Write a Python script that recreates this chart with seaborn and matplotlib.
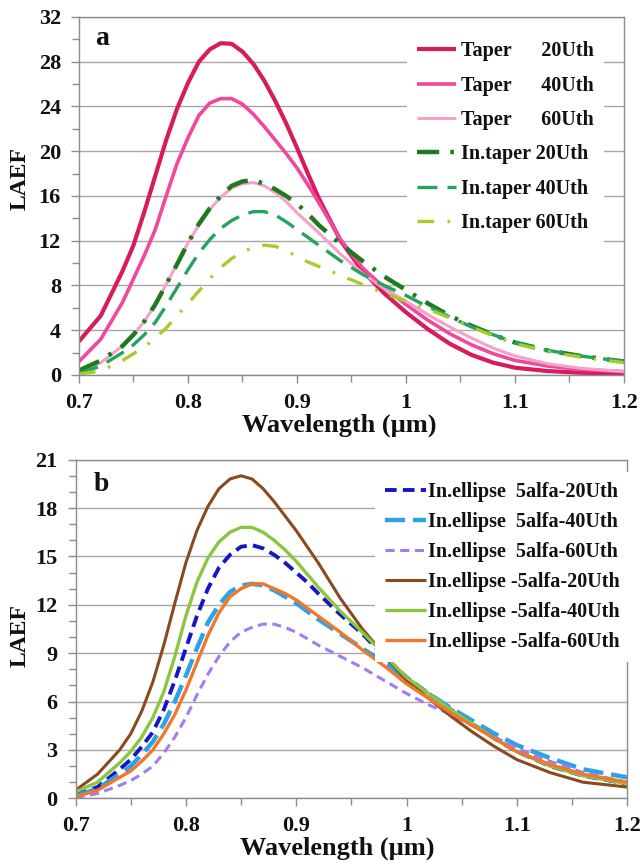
import numpy as np
import pandas as pd
import matplotlib
matplotlib.use("Agg")
import matplotlib.pyplot as plt
from matplotlib.ticker import MultipleLocator
import seaborn as sns

# ---------------- data ----------------
wavelength = [0.70, 0.72, 0.74, 0.75, 0.76, 0.77, 0.78, 0.79, 0.80, 0.81,
              0.82, 0.83, 0.84, 0.85, 0.86, 0.87, 0.88, 0.89, 0.90, 0.91,
              0.92, 0.94, 0.96, 0.98, 1.00, 1.02, 1.04, 1.06, 1.08, 1.10,
              1.13, 1.16, 1.20]

# panel a
taper_20 = [3.0, 5.3, 9.3, 11.6, 14.6, 17.8, 21.0, 23.8, 26.1, 28.0,
            29.1, 29.65, 29.6, 28.9, 27.8, 26.3, 24.5, 22.5, 20.3, 18.0,
            15.8, 12.0, 9.3, 7.3, 5.6, 4.1, 2.8, 1.8, 1.1, 0.65,
            0.35, 0.2, 0.1]
taper_40 = [1.2, 3.2, 6.5, 8.6, 10.7, 13.0, 16.0, 18.9, 21.2, 23.2,
            24.3, 24.7, 24.7, 24.2, 23.3, 22.2, 21.0, 19.8, 18.5, 17.0,
            15.4, 12.1, 9.6, 7.8, 6.3, 4.9, 3.7, 2.7, 1.9, 1.3,
            0.8, 0.5, 0.3]
taper_60 = [0.3, 1.1, 2.6, 3.6, 4.8, 6.3, 8.1, 9.9, 11.8, 13.4,
            14.8, 15.9, 16.7, 17.1, 17.2, 16.9, 16.3, 15.5, 14.5, 13.6,
            12.7, 10.8, 9.1, 7.7, 6.6, 5.4, 4.3, 3.3, 2.4, 1.7,
            1.0, 0.6, 0.3]
intaper_20 = [0.4, 1.3, 2.6, 3.6, 4.8, 6.3, 8.1, 9.9, 11.8, 13.5,
              14.9, 16.0, 16.9, 17.3, 17.4, 17.1, 16.6, 16.0, 15.3, 14.4,
              13.4, 11.7, 10.2, 8.8, 7.6, 6.4, 5.3, 4.4, 3.6, 2.9,
              2.2, 1.7, 1.2]
intaper_40 = [0.15, 0.8, 2.0, 2.7, 3.6, 4.7, 6.2, 7.8, 9.4, 10.9,
              12.1, 13.1, 13.8, 14.3, 14.6, 14.6, 14.3, 13.7, 13.0, 12.3,
              11.6, 10.2, 9.0, 8.0, 7.1, 6.1, 5.2, 4.3, 3.6, 2.9,
              2.2, 1.7, 1.2]
intaper_60 = [0.1, 0.35, 1.3, 1.9, 2.5, 3.3, 4.2, 5.3, 6.4, 7.5,
              8.6, 9.6, 10.4, 11.0, 11.4, 11.6, 11.5, 11.1, 10.6, 10.1,
              9.7, 8.9, 8.1, 7.3, 6.6, 5.9, 5.1, 4.3, 3.5, 2.8,
              2.1, 1.6, 1.1]

# panel b
ell_p5_20 = [0.2, 0.7, 1.8, 2.4, 3.2, 4.1, 5.5, 7.3, 9.3, 11.3,
             13.0, 14.3, 15.1, 15.6, 15.7, 15.5, 15.1, 14.6, 14.0, 13.4,
             12.7, 11.4, 10.2, 8.8, 7.5, 6.5, 5.5, 4.6, 3.7, 2.9,
             2.0, 1.4, 0.9]
ell_p5_40 = [0.15, 0.6, 1.5, 2.0, 2.7, 3.5, 4.6, 6.0, 7.6, 9.3,
             10.9, 12.0, 12.8, 13.2, 13.3, 13.2, 12.9, 12.5, 12.1, 11.6,
             11.1, 10.2, 9.3, 8.4, 7.4, 6.5, 5.6, 4.8, 4.0, 3.3,
             2.5, 1.8, 1.3]
ell_p5_60 = [0.05, 0.3, 0.8, 1.1, 1.5, 2.0, 2.8, 3.8, 5.0, 6.4,
             7.7, 8.8, 9.7, 10.3, 10.6, 10.8, 10.8, 10.6, 10.3, 9.9,
             9.5, 8.8, 8.1, 7.3, 6.5, 5.8, 5.2, 4.5, 3.8, 3.1,
             2.3, 1.6, 1.0]
ell_m5_20 = [0.5, 1.5, 3.0, 4.0, 5.4, 7.2, 9.5, 12.1, 14.6, 16.6,
             18.1, 19.2, 19.8, 20.0, 19.8, 19.2, 18.4, 17.5, 16.6, 15.6,
             14.6, 12.4, 10.5, 8.9, 7.3, 6.2, 5.1, 4.1, 3.2, 2.4,
             1.6, 1.0, 0.7]
ell_m5_40 = [0.4, 1.0, 2.2, 2.9, 3.8, 5.0, 6.6, 8.8, 11.3, 13.4,
             14.9, 15.9, 16.5, 16.8, 16.8, 16.5, 16.0, 15.4, 14.7, 13.9,
             13.1, 11.6, 10.3, 8.9, 7.5, 6.5, 5.5, 4.6, 3.7, 2.9,
             2.0, 1.4, 0.9]
ell_m5_60 = [0.1, 0.5, 1.3, 1.7, 2.3, 3.0, 4.0, 5.2, 6.7, 8.4,
             10.1, 11.5, 12.5, 13.0, 13.3, 13.3, 13.0, 12.7, 12.3, 11.8,
             11.3, 10.3, 9.2, 8.2, 7.1, 6.2, 5.3, 4.5, 3.7, 2.9,
             2.1, 1.5, 1.0]

labels_a = ["Taper      20Uth", "Taper      40Uth", "Taper      60Uth",
            "In.taper 20Uth", "In.taper 40Uth", "In.taper 60Uth"]
labels_b = ["In.ellipse  5alfa-20Uth", "In.ellipse  5alfa-40Uth",
            "In.ellipse  5alfa-60Uth", "In.ellipse -5alfa-20Uth",
            "In.ellipse -5alfa-40Uth", "In.ellipse -5alfa-60Uth"]

xticks = [0.7, 0.8, 0.9, 1.0, 1.1, 1.2]
xticklabels = ["0.7", "0.8", "0.9", "1", "1.1", "1.2"]

# ---------------- style ----------------
sns.set_theme(style="white")
plt.rcParams['font.family'] = ['Liberation Serif', 'DejaVu Serif']
plt.rcParams['font.weight'] = 'bold'

series_a = [taper_20, taper_40, taper_60, intaper_20, intaper_40, intaper_60]
colors_a = ['#D81B5C', '#F0489C', '#F6A2C8', '#1E7A1E', '#22A45E', '#A9CB2A']
widths_a = [3.0, 2.6, 2.2, 3.2, 2.4, 2.4]
styles_a = ['-', '-', '-', (0, (5, 2.5, 0.8, 2.5)), (0, (6, 3)), (0, (5, 4, 0.8, 4))]

series_b = [ell_p5_20, ell_p5_40, ell_p5_60, ell_m5_20, ell_m5_40, ell_m5_60]
colors_b = ['#1616C8', '#2CA2E8', '#A47CF0', '#8A4A1E', '#8CC63E', '#F2772A']
widths_b = [2.8, 3.2, 2.2, 2.2, 2.4, 2.4]
styles_b = [(0, (3, 1.6)), (0, (4.5, 1.8)), (0, (3, 1.8)), '-', '-', '-']

fig = plt.figure(figsize=(6.4, 8.64), dpi=100)
ax_a = fig.add_axes([0.1234, 0.566, 0.8516, 0.4144])
ax_b = fig.add_axes([0.118, 0.076, 0.862, 0.392])

grid_c = '#A8A8A8'
spine_c = '#8C8C8C'


def draw(ax, series, labels, colors, widths, styles):
    for vals, lab, col, lw, ls in zip(series, labels, colors, widths, styles):
        sns.lineplot(x=wavelength, y=vals, ax=ax, color=col, linewidth=lw,
                     label=lab, errorbar=None, legend=False)
        ax.lines[-1].set_linestyle(ls)
        ax.lines[-1].set_solid_capstyle('butt')
        ax.lines[-1].set_solid_joinstyle('round')


draw(ax_a, series_a, labels_a, colors_a, widths_a, styles_a)
draw(ax_b, series_b, labels_b, colors_b, widths_b, styles_b)

for ax, ymax, ystep, yminor in [(ax_a, 32, 4, 2), (ax_b, 21, 3, 1)]:
    ax.set_xlim(0.7, 1.2)
    ax.set_ylim(0, ymax)
    ax.set_xticks(xticks)
    ax.set_xticklabels(xticklabels)
    ax.xaxis.set_minor_locator(MultipleLocator(0.05))
    ax.yaxis.set_major_locator(MultipleLocator(ystep))
    ax.yaxis.set_minor_locator(MultipleLocator(yminor))
    ax.grid(axis='y', which='major', color=grid_c, linewidth=1.0)
    ax.grid(axis='x', visible=False)
    ax.set_axisbelow(True)
    for s in ax.spines.values():
        s.set_visible(True)
        s.set_color(spine_c)
        s.set_linewidth(1.0)
    ax.tick_params(axis='both', which='both', direction='out', color=spine_c,
                   left=True, bottom=True, labelsize=16, pad=7)
    ax.tick_params(axis='both', which='major', length=6, width=1)
    ax.tick_params(axis='both', which='minor', length=5, width=1)
    for t in ax.get_xticklabels() + ax.get_yticklabels():
        t.set_fontweight('bold')
        t.set_color('#111111')
    ax.set_xlabel("Wavelength (µm)", fontsize=19, fontweight='bold',
                  color='#111111')
    ax.set_ylabel("LAEF", fontsize=17, fontweight='bold', color='#111111')

ax_a.xaxis.set_label_coords(0.478, -0.108)
ax_b.xaxis.set_label_coords(0.475, -0.113)
ax_a.yaxis.set_label_coords(-0.088, 0.55)
ax_b.yaxis.set_label_coords(-0.081, 0.48)

ax_a.text(0.03, 0.975, "a", transform=ax_a.transAxes, fontsize=20,
          fontweight='bold', va='top', ha='left', color='#111111')
ax_b.text(0.033, 0.965, "b", transform=ax_b.transAxes, fontsize=20,
          fontweight='bold', va='top', ha='left', color='#111111')

legprops = {'family': 'Liberation Serif', 'weight': 'bold', 'size': 14.5}
leg_a = ax_a.legend(loc='upper left', bbox_to_anchor=(0.584, 0.988),
                    frameon=True, facecolor='white', edgecolor='none',
                    framealpha=1, fancybox=False, handlelength=1.9,
                    handletextpad=0.25, labelspacing=0.71, borderpad=0.5,
                    prop=legprops)
leg_b = ax_b.legend(loc='upper left', bbox_to_anchor=(0.525, 0.992),
                    frameon=True, facecolor='white', edgecolor='none',
                    framealpha=1, fancybox=False, handlelength=2.0,
                    handletextpad=0.1, labelspacing=0.49, borderpad=0.5,
                    prop=legprops)
for leg in (leg_a, leg_b):
    for t in leg.get_texts():
        t.set_color('#111111')

fig.savefig("out.png", dpi=100, facecolor='white')
